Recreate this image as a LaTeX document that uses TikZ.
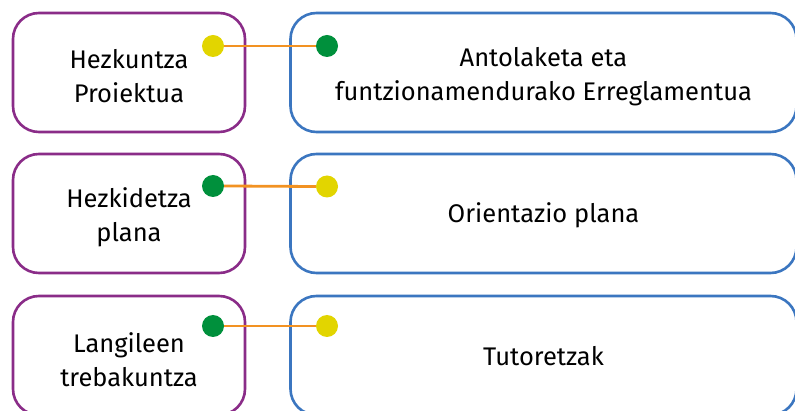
\documentclass[tikz,border=0pt]{standalone}
\usepackage{fontspec}
\setmainfont{Fira Sans}
\definecolor{boxpurple}{HTML}{8A2C88}
\definecolor{boxblue}{HTML}{3B76C0}
\definecolor{dotyellow}{HTML}{E2D500}
\definecolor{dotgreen}{HTML}{00903C}
\definecolor{linkorange}{HTML}{F29222}
\tikzset{
  leftbox/.style={draw=boxpurple, line width=2.6pt, rounded corners=26pt, minimum width=232pt, minimum height=119pt, inner sep=0pt},
  rightbox/.style={draw=boxblue, line width=2.6pt, rounded corners=26pt, minimum width=506pt, minimum height=119pt, inner sep=0pt},
  boxtext/.style={align=center, inner sep=0pt, font=\fontsize{25.5}{34}\selectfont},
  ydot/.style={circle, fill=dotyellow, minimum size=22pt, inner sep=0pt},
  gdot/.style={circle, fill=dotgreen, minimum size=22pt, inner sep=0pt},
  link/.style={draw=linkorange, line width=2.8pt}
}
\begin{document}
\begin{tikzpicture}[x=1pt,y=-1pt]
\useasboundingbox (0,0) rectangle (795,411);
\clip (0,0) rectangle (795,411);
\fill[white] (0,0) rectangle (795,411);
% row 1
\node[leftbox] (l1) at (129,72.5) {};
\node[boxtext] (t1) at ([yshift=-4pt]l1.center) {Hezkuntza\\Proiektua};
\node[rightbox] (r1) at (543.5,72.5) {};
\node[boxtext] (u1) at ([yshift=-4pt]r1.center) {Antolaketa eta\\funtzionamendurako Erreglamentua};
\node[ydot] (a1) at (213,46) {};
\node[gdot] (b1) at (327,46) {};
\draw[link] (a1.east) -- (b1.west);
% row 2
\node[leftbox] (l2) at (129,213.5) {};
\node[boxtext] (t2) at ([yshift=-4pt]l2.center) {Hezkidetza\\plana};
\node[rightbox] (r2) at (543.5,213.5) {};
\node[boxtext] (u2) at ([yshift=-2pt]r2.center) {Orientazio plana};
\node[gdot] (a2) at (213,186) {};
\node[ydot] (b2) at (327,186.5) {};
\draw[link] (a2.east) -- (b2.west);
% row 3
\node[leftbox] (l3) at (129,355.5) {};
\node[boxtext] (t3) at ([yshift=-4pt]l3.center) {Langileen\\trebakuntza};
\node[rightbox] (r3) at (543.5,355.5) {};
\node[boxtext] (u3) at ([yshift=-1pt]r3.center) {Tutoretzak};
\node[gdot] (a3) at (213,326) {};
\node[ydot] (b3) at (327,326) {};
\draw[link] (a3.east) -- (b3.west);
\end{tikzpicture}
\end{document}
